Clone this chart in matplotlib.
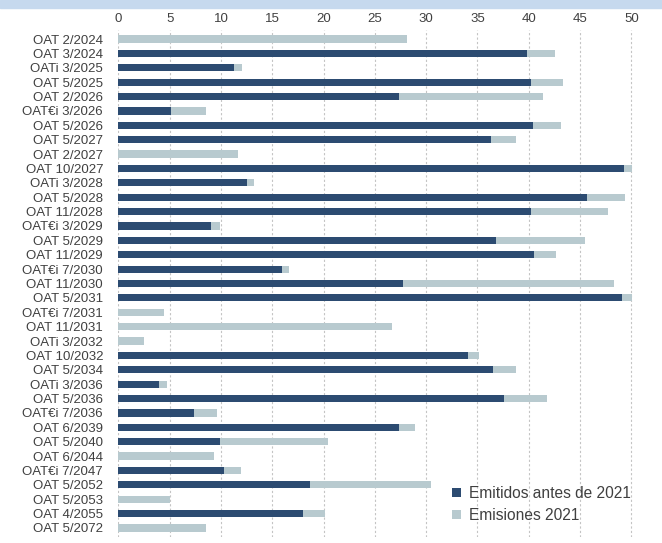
import matplotlib.pyplot as plt
import numpy as np

# datos (miles de millones)
bonos = ["OAT 2/2024", "OAT 3/2024", "OATi 3/2025", "OAT 5/2025", "OAT 2/2026",
         "OAT€i 3/2026", "OAT 5/2026", "OAT 5/2027", "OAT 2/2027", "OAT 10/2027",
         "OATi 3/2028", "OAT 5/2028", "OAT 11/2028", "OAT€i 3/2029", "OAT 5/2029",
         "OAT 11/2029", "OAT€i 7/2030", "OAT 11/2030", "OAT 5/2031", "OAT€i 7/2031",
         "OAT 11/2031", "OATi 3/2032", "OAT 10/2032", "OAT 5/2034", "OATi 3/2036",
         "OAT 5/2036", "OAT€i 7/2036", "OAT 6/2039", "OAT 5/2040", "OAT 6/2044",
         "OAT€i 7/2047", "OAT 5/2052", "OAT 5/2053", "OAT 4/2055", "OAT 5/2072"]

antes_2021 = [0, 39.8, 11.3, 40.2, 27.4,
              5.1, 40.4, 36.3, 0, 49.3,
              12.5, 45.7, 40.2, 9.0, 36.8,
              40.5, 16.0, 27.7, 49.1, 0,
              0, 0, 34.1, 36.5, 4.0,
              37.6, 7.4, 27.4, 9.9, 0,
              10.3, 18.7, 0, 18.0, 0]

total = [28.1, 42.6, 12.1, 43.3, 41.4,
         8.5, 43.1, 38.8, 11.7, 50.1,
         13.2, 49.4, 47.7, 9.9, 45.5,
         42.7, 16.6, 48.3, 50.1, 4.45,
         26.7, 2.5, 35.2, 38.8, 4.7,
         41.8, 9.6, 28.9, 20.4, 9.3,
         12.0, 30.5, 5.0, 20.1, 8.5]

emisiones_2021 = [t - a for t, a in zip(total, antes_2021)]

oscuro = "#2c4b71"
claro = "#b8cacf"
texto = "#404040"

plt.rcParams['font.family'] = ['Liberation Sans', 'DejaVu Sans']

fig = plt.figure(figsize=(6.62, 5.43), dpi=100)
# franja azul de arriba
fig.patches.append(plt.Rectangle((0, 1 - 8 / 543), 1, 8 / 543, transform=fig.transFigure,
                                 color="#c6d9ee", zorder=-1))

ax = fig.add_axes([118.3 / 662, 1 - 536.6 / 543, 52 * 10.26 / 662, (536.6 - 30.4) / 543])

y = np.arange(len(bonos))
ax.barh(y, antes_2021, height=0.5, color=oscuro, label="Emitidos antes de 2021", zorder=3)
ax.barh(y, emisiones_2021, left=antes_2021, height=0.5, color=claro,
        label="Emisiones 2021", zorder=3)

ax.set_ylim(len(bonos) - 0.4, -0.6)
ax.set_xlim(0, 52)
ax.set_yticks(y)
ax.set_yticklabels(bonos, fontsize=9.5, color=texto)
ax.set_xticks(np.arange(0, 51, 5))
ax.tick_params(axis='x', top=False, bottom=False, labeltop=True, labelbottom=False,
               labelsize=9.5, labelcolor=texto, length=0, pad=4)
ax.tick_params(axis='y', length=0, pad=11)
for s in ax.spines.values():
    s.set_visible(False)
ax.grid(axis='x', color="#c4c4c4", linestyle=(0, (2, 2)), linewidth=0.8, zorder=0)

ax.legend(loc='lower left', bbox_to_anchor=(438 / 662, 6 / 543), bbox_transform=fig.transFigure,
          frameon=False, fontsize=11.2, handlelength=0.6, handleheight=0.6, handletextpad=0.5,
          labelspacing=0.45, labelcolor=texto)

fig.savefig("out.png", dpi=100)
